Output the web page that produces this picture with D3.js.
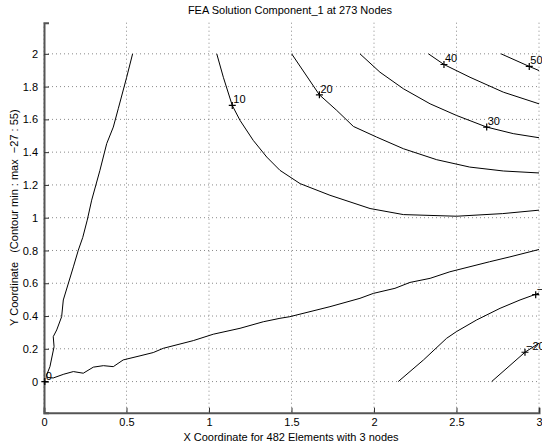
<!DOCTYPE html>
<html>
  <head>
    <meta charset="utf-8">
    <style>
    body {
      margin: 0;
      background: #fff;
    }
    text {
      font-family: "Liberation Sans", Arial, sans-serif;
      white-space: pre;
    }
    .grid line {
      stroke: #8a8a8a;
      stroke-dasharray: 1,3;
    }
    .contour {
      fill: none;
      stroke: #000;
      stroke-width: 1px;
    }
    </style>
    <script src="https://cdn.jsdelivr.net/npm/d3@7"></script>
  </head>
  <body>
    <script>
    var width = 542, height = 448;

    var title = "FEA Solution Component_1 at 273 Nodes";
    var xLabel = "X Coordinate for 482 Elements with 3 nodes";
    var yLabel = "Y Coordinate   (Contour min : max  \u221227 : 55)";

    var xTicks = [0, 0.5, 1, 1.5, 2, 2.5, 3];
    var yTicks = [0, 0.2, 0.4, 0.6, 0.8, 1, 1.2, 1.4, 1.6, 1.8, 2];

    // contour levels and their traced lines (x, y in mesh units)
    var levels = [0, -10, -20, 10, 20, 30, 40, 50];

    var line0 = [[0.537, 2.0], [0.501, 1.857], [0.45, 1.665], [0.42, 1.553], [0.38, 1.452],
      [0.339, 1.289], [0.289, 1.107], [0.262, 0.985], [0.235, 0.88], [0.208, 0.802],
      [0.178, 0.70], [0.117, 0.498], [0.107, 0.396], [0.077, 0.315], [0.056, 0.274],
      [0.061, 0.213], [0.036, 0.091], [0.016, 0.04], [0.02, 0.025], [0.056, 0.022],
      [0.12, 0.045], [0.178, 0.061], [0.238, 0.051], [0.299, 0.088], [0.36, 0.097],
      [0.42, 0.091], [0.48, 0.132], [0.582, 0.157], [0.662, 0.177], [0.723, 0.203],
      [0.905, 0.25], [1.026, 0.289], [1.188, 0.325], [1.329, 0.365], [1.43, 0.386],
      [1.49, 0.396], [1.733, 0.457], [1.915, 0.508], [1.996, 0.538], [2.127, 0.569],
      [2.218, 0.605], [2.34, 0.63], [2.46, 0.67], [2.70, 0.731], [2.824, 0.761], [3.0, 0.806]];
    var lineM10 = [[2.147, 0.0], [2.30, 0.132], [2.44, 0.264], [2.50, 0.305], [2.622, 0.376],
      [2.764, 0.447], [2.885, 0.498], [3.0, 0.54]];
    var lineM20 = [[2.713, 0.0], [2.915, 0.179], [3.0, 0.234]];
    var line10 = [[1.047, 2.0], [1.087, 1.857], [1.141, 1.685], [1.188, 1.594], [1.268, 1.472],
      [1.35, 1.37], [1.43, 1.289], [1.552, 1.208], [1.733, 1.137], [1.976, 1.056],
      [2.178, 1.019], [2.50, 1.009], [2.78, 1.025], [3.0, 1.046]];
    var line20 = [[1.501, 2.0], [1.669, 1.75], [1.774, 1.655], [1.875, 1.557], [2.016, 1.492],
      [2.178, 1.421], [2.38, 1.354], [2.58, 1.309], [2.784, 1.285], [3.0, 1.273]];
    var line30 = [[1.915, 2.0], [2.036, 1.888], [2.178, 1.787], [2.34, 1.695], [2.50, 1.624],
      [2.683, 1.553], [2.844, 1.513], [3.0, 1.488]];
    var line40 = [[2.33, 2.0], [2.424, 1.935], [2.582, 1.857], [2.784, 1.766], [3.0, 1.695]];
    var line50 = [[2.77, 2.0], [2.941, 1.923], [3.0, 1.898]];

    // where each level is labelled
    var labelPoints = [[0.005, 0.0], [2.98, 0.53], [2.915, 0.179], [1.141, 1.685],
      [1.669, 1.75], [2.683, 1.553], [2.424, 1.935], [2.941, 1.923]];

    var lines = [line0, lineM10, lineM20, line10, line20, line30, line40, line50];

    var svg = d3.select("body").append("svg")
        .attr("width", width)
        .attr("height", height);

    var x = d3.scaleLinear().domain([0, 3]).range([44, 539]);
    var y = d3.scaleLinear().domain([-0.19, 2.19]).range([412.7, 22.7]);

    // grid
    svg.append("g").attr("class", "grid")
      .selectAll("line").data(xTicks).enter().append("line")
        .attr("x1", d => x(d)).attr("x2", d => x(d))
        .attr("y1", y(2.19)).attr("y2", y(-0.19));
    svg.append("g").attr("class", "grid")
      .selectAll("line").data(yTicks).enter().append("line")
        .attr("x1", x(0)).attr("x2", x(3))
        .attr("y1", d => y(d)).attr("y2", d => y(d));

    // axes, ticks inward like matlab
    var gx = svg.append("g")
        .attr("transform", "translate(0," + y(-0.19) + ")")
        .call(d3.axisBottom(x).tickValues(xTicks).tickSize(-5).tickPadding(6)
          .tickFormat(d3.format("")));
    var gy = svg.append("g")
        .attr("transform", "translate(" + x(0) + ",0)")
        .call(d3.axisLeft(y).tickValues(yTicks).tickSize(-5).tickPadding(6)
          .tickFormat(d3.format("")));
    [gx, gy].forEach(function(g) {
      g.select(".domain").attr("stroke", "#555").attr("stroke-width", 2);
      g.selectAll(".tick line").attr("stroke", "#333");
      g.selectAll(".tick text").attr("font-size", 11).attr("fill", "#000")
        .attr("font-family", "Liberation Sans, Arial, sans-serif");
    });

    var path = d3.line().x(d => x(d[0])).y(d => y(d[1]));

    svg.selectAll(".contour").data(lines).enter().append("path")
        .attr("class", "contour")
        .attr("d", path);

    // + markers and level labels
    var marks = svg.append("g").selectAll("g").data(labelPoints).enter().append("g")
        .attr("transform", d => "translate(" + x(d[0]) + "," + y(d[1]) + ")");
    marks.append("path")
        .attr("d", "M-3.5,0H3.5M0,-3.5V3.5")
        .attr("stroke", "#000").attr("stroke-width", 1.2);
    marks.append("text")
        .attr("x", 1).attr("y", -2)
        .attr("font-size", 11)
        .text((d, i) => levels[i] < 0 ? "\u2212" + Math.abs(levels[i]) : levels[i]);

    svg.append("text")
        .attr("x", 290).attr("y", 14)
        .attr("text-anchor", "middle").attr("font-size", 11)
        .text(title);
    svg.append("text")
        .attr("x", 291).attr("y", 441)
        .attr("text-anchor", "middle").attr("font-size", 11)
        .text(xLabel);
    svg.append("text")
        .attr("transform", "translate(18," + y(1) + ") rotate(-90)")
        .attr("text-anchor", "middle").attr("font-size", 11)
        .text(yLabel);
    </script>
  </body>
</html>
